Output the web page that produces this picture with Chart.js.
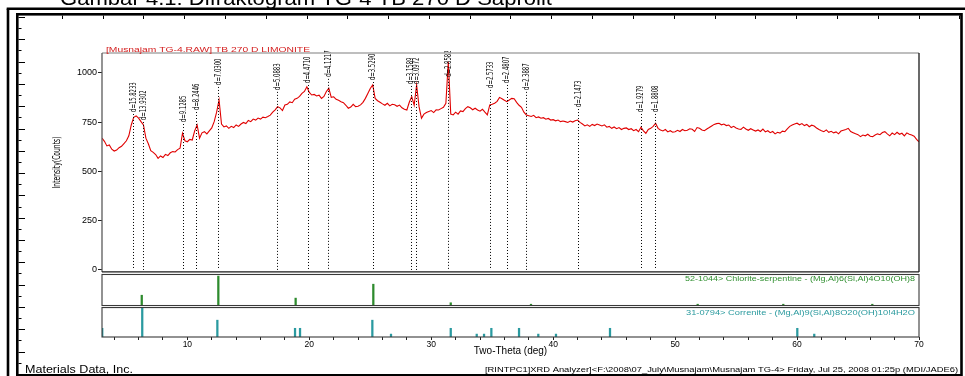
<!DOCTYPE html>
<html lang="id">
<head>
<meta charset="UTF-8">
<title>Difraktogram TG-4 TB 270 D Saprolit</title>
<script src="https://cdn.jsdelivr.net/npm/chart.js"></script>
<style>
  body { margin: 0; background: #fff; }
  canvas { display: block; }
</style>
</head>
<body>
<canvas id="xrdChart" width="965" height="376"></canvas>
<script>
// scan: 2-theta 3..70 deg, one value every 0.2 deg
const thetaStart = 3.0;
const thetaStep = 0.2;
const counts = [
  668, 652, 629, 634, 612,   // 3
  603, 608, 620, 627, 641,   // 4
  655, 680, 735, 774, 781,   // 5
  770, 752, 735, 668, 640,   // 6
  605, 596, 585, 566, 578,   // 7
  570, 586, 580, 594, 600,   // 8
  598, 610, 617, 693, 655,   // 9
  650, 662, 659, 705, 735,   // 10
  668, 695, 701, 690, 705,   // 11
  720, 752, 800, 862, 740,   // 12
  725, 730, 718, 728, 722,   // 13
  735, 728, 740, 748, 742,   // 14
  758, 752, 765, 760, 770,   // 15
  765, 775, 772, 778, 785,   // 16
  800, 812, 828, 822, 808,   // 17
  836, 840, 852, 848, 866,   // 18
  870, 880, 895, 905, 929,   // 19
  900, 887, 890, 882, 886,   // 20
  870, 880, 905, 921, 875,   // 21
  878, 865, 860, 853, 848,   // 22
  835, 820, 826, 840, 828,   // 23
  830, 837, 850, 870, 895,   // 24
  920, 938, 870, 858, 850,   // 25
  842, 835, 845, 832, 840,   // 26
  838, 830, 836, 822, 815,   // 27
  811, 850, 879, 835, 938,   // 28
  828, 769, 790, 798, 803,   // 29
  808, 798, 812, 811, 818,   // 30
  825, 845, 1055, 790, 786,  // 31
  800, 790, 806, 803, 818,   // 32
  828, 822, 812, 820, 811,   // 33
  805, 815, 800, 786, 837,   // 34
  840, 845, 855, 875, 868,   // 35
  860, 853, 862, 870, 868,   // 36
  850, 835, 825, 800, 786,   // 37
  782, 778, 784, 772, 776,   // 38
  769, 772, 764, 768, 760,   // 39
  762, 756, 760, 752, 755,   // 40
  752, 748, 755, 750, 757,   // 41
  760, 748, 740, 730, 736,   // 42
  728, 738, 732, 740, 735,   // 43
  730, 736, 724, 728, 718,   // 44
  725, 716, 722, 712, 718,   // 45
  720, 712, 716, 706, 712,   // 46
  701, 723, 705, 693, 712,   // 47
  718, 728, 744, 718, 710,   // 48
  705, 712, 700, 706, 698,   // 49
  701, 708, 702, 712, 706,   // 50
  708, 716, 713, 702, 722,   // 51
  718, 710, 706, 715, 722,   // 52
  730, 738, 742, 744, 736,   // 53
  740, 732, 735, 722, 728,   // 54
  720, 715, 713, 724, 715,   // 55
  708, 716, 710, 704, 710,   // 56
  702, 714, 700, 706, 696,   // 57
  702, 690, 698, 694, 704,   // 58
  701, 715, 728, 735, 740,   // 59
  744, 736, 742, 732, 738,   // 60
  726, 734, 730, 720, 712,   // 61
  706, 701, 710, 698, 703,   // 62
  695, 700, 690, 704, 708,   // 63
  712, 718, 702, 696, 690,   // 64
  686, 676, 684, 680, 688,   // 65
  678, 676, 684, 690, 686,   // 66
  697, 701, 690, 680, 694,   // 67
  686, 698, 688, 693, 680,   // 68
  695, 688, 684, 678, 662,   // 69
  650                        // 70
];

// peak markers (2-theta, label, counts where the dotted line starts)
const peakTheta = [5.54, 6.39, 9.67, 10.71, 12.54, 17.38, 19.87, 21.57, 25.20,
                   28.32, 28.79, 31.37, 34.82, 36.19, 37.77, 42.06, 47.18, 48.38];
const peakLabels = ['d=15.8233', 'd=13.9302', 'd=9.1285', 'd=8.2446', 'd=7.0300',
                    'd=5.0883', 'd=4.4710', 'd=4.1217', 'd=3.5290', 'd=3.1589',
                    'd=3.0972', 'd=2.8582', 'd=2.5733', 'd=2.4807', 'd=2.3887',
                    'd=2.1473', 'd=1.9279', 'd=1.8808'];
const peakLabelBase = [801, 760, 750, 811, 938, 913, 948, 979, 963,
                       943, 943, 979, 923, 948, 913, 826, 801, 801];

// reference cards (relative intensity, %)
const chloriteTheta = [6.26, 12.54, 18.88, 25.25, 31.60, 38.18, 51.85, 58.87, 66.17];
const chloriteInt   = [34, 100, 24, 72, 8, 3, 3, 3, 3];
const correniteTheta = [3.02, 6.30, 12.46, 18.83, 19.24, 25.17, 26.70, 31.60, 33.73,
                        34.33, 34.93, 37.20, 38.78, 40.23, 44.66, 60.02, 61.41];
const correniteInt   = [30, 100, 58, 30, 30, 58, 10, 30, 10, 10, 30, 30, 10, 10, 30, 30, 10];

const yTicks = [0, 250, 500, 750, 1000];
const xTicks = [4, 6, 8, 10, 12, 14, 16, 18, 20, 22, 24, 26, 28, 30, 32, 34, 36, 38,
                40, 42, 44, 46, 48, 50, 52, 54, 56, 58, 60, 62, 64, 66, 68, 70];
const xTickLabels = [10, 20, 30, 40, 50, 60, 70];

const scan = counts.map((c, i) => ({ x: +(thetaStart + i * thetaStep).toFixed(1), y: c }));
const chlorite = chloriteTheta.map((t, i) => ({ x: t, y: chloriteInt[i] }));
const correnite = correniteTheta.map((t, i) => ({ x: t, y: correniteInt[i] }));

const SANS = '"Liberation Sans", Arial, sans-serif';
const NARROW = '"Liberation Sans Narrow", "DejaVu Sans Condensed", sans-serif';

// text at a given font size, squeezed or stretched to a given length
function squashText(ctx, text, x, y, size, family, width) {
  ctx.font = size + 'px ' + family;
  const k = width / ctx.measureText(text).width;
  ctx.save();
  ctx.translate(x, y);
  ctx.scale(k, 1);
  ctx.fillText(text, 0, 0);
  ctx.restore();
}

function line(ctx, x1, y1, x2, y2) {
  ctx.beginPath();
  ctx.moveTo(x1, y1);
  ctx.lineTo(x2, y2);
  ctx.stroke();
}

const decor = {
  id: 'decor',
  beforeDraw(chart) {
    const ctx = chart.ctx;
    ctx.save();
    ctx.fillStyle = '#fff';
    ctx.fillRect(0, 0, chart.width, chart.height);
    ctx.restore();
  },
  afterDatasetsDraw(chart) {
    const ctx = chart.ctx;
    const { x, y } = chart.scales;
    const zero = y.getPixelForValue(0);
    ctx.save();
    ctx.strokeStyle = '#000';
    ctx.lineWidth = 1;
    ctx.setLineDash([1, 2]);
    peakTheta.forEach((t, i) => {
      const px = Math.round(x.getPixelForValue(t)) + 0.5;
      line(ctx, px, y.getPixelForValue(peakLabelBase[i]) + 2, px, zero);
    });
    ctx.setLineDash([]);
    ctx.fillStyle = '#000';
    ctx.textAlign = 'left';
    ctx.textBaseline = 'middle';
    peakTheta.forEach((t, i) => {
      ctx.save();
      ctx.translate(x.getPixelForValue(t) + 0.5, y.getPixelForValue(peakLabelBase[i]));
      ctx.rotate(-Math.PI / 2);
      squashText(ctx, peakLabels[i], 0, 0, 8, NARROW, peakLabels[i].length * 3.3);
      ctx.restore();
    });
    ctx.restore();
  },
  afterDraw(chart) {
    const ctx = chart.ctx;
    const { y, y2, y3 } = chart.scales;
    const L = chart.chartArea.left, R = chart.chartArea.right;
    ctx.save();

    // caption, cut by the top of the page
    ctx.fillStyle = '#000';
    ctx.textAlign = 'left';
    ctx.textBaseline = 'alphabetic';
    squashText(ctx, 'Gambar 4.1: Difraktogram TG-4 TB 270 D Saprolit', 60, 5, 20, SANS, 492);

    // outer frames
    ctx.strokeStyle = '#000';
    ctx.lineWidth = 2.6;
    line(ctx, 6.7, 8.7, 965, 8.7);
    line(ctx, 8, 8.7, 8, 376);
    ctx.strokeRect(17.3, 14.3, 944.2, 361);

    // ruler ticks on the frame
    ctx.lineWidth = 1;
    for (let k = 0; k < 23; k++) {
      const tx = Math.round(61.7 + 40.8 * k) + 0.5;
      line(ctx, tx, 15.5, tx, 19);
    }
    for (let k = -2; k < 31; k++) {
      const ty = Math.round(39.3 + 11.15 * k) + 0.5;
      line(ctx, 18.5, ty, k % 2 === 0 ? 25 : 21.5, ty);
    }

    // main panel frame
    const mTop = y.getPixelForValue(1100), mBot = y.getPixelForValue(-10);
    ctx.lineWidth = 1.3;
    ctx.strokeStyle = '#a8a8a8';
    line(ctx, L, mTop, R, mTop);
    ctx.strokeStyle = '#5a5a5a';
    line(ctx, L, mTop, L, mBot);
    ctx.strokeStyle = '#1a1a1a';
    line(ctx, R, mTop, R, mBot);
    line(ctx, L, mBot, R, mBot);

    // reference panels
    ctx.strokeStyle = '#3a3a3a';
    ctx.lineWidth = 1.1;
    const cTop = y2.getPixelForValue(105.5), cBot = y2.getPixelForValue(-1.5);
    ctx.strokeRect(L, cTop, R - L, cBot - cTop);
    const rTop = y3.getPixelForValue(101.5), rBot = y3.getPixelForValue(0);
    ctx.strokeRect(L, rTop, R - L, rBot - rTop);

    // header of the scan
    ctx.fillStyle = '#d42020';
    squashText(ctx, '[Musnajam TG-4.RAW] TB 270 D LIMONITE', 106, 51.5, 7.5, SANS, 204);

    // y title
    ctx.fillStyle = '#000';
    ctx.save();
    ctx.translate(57.5, (mTop + mBot) / 2 + 26);
    ctx.rotate(-Math.PI / 2);
    ctx.textBaseline = 'middle';
    squashText(ctx, 'Intensity(Counts)', 0, 0, 11, NARROW, 52);
    ctx.restore();
    ctx.textBaseline = 'alphabetic';

    // card labels
    ctx.fillStyle = '#2f8f2f';
    squashText(ctx, '52-1044> Chlorite-serpentine - (Mg,Al)6(Si,Al)4O10(OH)8', 685, cTop + 6.5, 6.5, SANS, 230);
    ctx.fillStyle = '#2a9a9e';
    squashText(ctx, '31-0794> Correnite - (Mg,Al)9(Si,Al)8O20(OH)10!4H2O', 686, rTop + 7, 6.5, SANS, 229);

    // footer
    ctx.fillStyle = '#000';
    squashText(ctx, 'Materials Data, Inc.', 25, 373, 10, SANS, 108);
    const foot = '[RINTPC1]XRD Analyzer]<F:\\2008\\07_July\\Musnajam\\Musnajam TG-4> Friday, Jul 25, 2008 01:25p (MDI/JADE6)';
    squashText(ctx, foot, 485, 371.5, 8, SANS, 473);

    ctx.restore();
  }
};

new Chart(document.getElementById('xrdChart'), {
  type: 'line',
  data: {
    datasets: [
      {
        label: 'TG-4 TB 270 D',
        data: scan,
        yAxisID: 'y',
        borderColor: '#e00000',
        borderWidth: 1.1,
        pointRadius: 0,
        tension: 0
      },
      {
        type: 'bar',
        label: '52-1044 Chlorite-serpentine',
        data: chlorite,
        yAxisID: 'y2',
        backgroundColor: '#2e8b2e',
        barThickness: 1.6,
        grouped: false
      },
      {
        type: 'bar',
        label: '31-0794 Correnite',
        data: correnite,
        yAxisID: 'y3',
        backgroundColor: '#2a9aa0',
        barThickness: 1.6,
        grouped: false
      }
    ]
  },
  options: {
    responsive: false,
    animation: false,
    events: [],
    layout: { padding: { left: 0, right: 46, top: 53, bottom: 0 } },
    scales: {
      x: {
        type: 'linear',
        min: 3,
        max: 70,
        offset: false,
        afterBuildTicks: s => { s.ticks = xTicks.map(v => ({ value: v })); },
        afterFit: s => { s.height = 39; },
        ticks: {
          autoSkip: false,
          maxRotation: 0,
          padding: 0,
          color: '#000',
          font: { family: SANS, size: 8.5 },
          callback: v => xTickLabels.includes(v) ? String(v) : ''
        },
        grid: { offset: false, drawOnChartArea: false, tickLength: 3, color: '#222' },
        border: { display: false },
        title: {
          display: true,
          text: 'Two-Theta (deg)',
          color: '#000',
          font: { family: SANS, size: 10 },
          padding: { top: 0, bottom: 19 }
        }
      },
      y: {
        position: 'left',
        min: -340,
        max: 1100,
        afterBuildTicks: s => { s.ticks = yTicks.map(v => ({ value: v })); },
        afterFit: s => { s.width = 102; },
        ticks: {
          padding: 1,
          color: '#000',
          font: { family: SANS, size: 9 },
          callback: v => String(v)
        },
        grid: { drawOnChartArea: false, tickLength: 4, color: '#222' },
        border: { display: false }
      },
      y2: { display: false, min: -110, max: 869 },
      y3: { display: false, min: 0, max: 979 }
    },
    plugins: {
      legend: { display: false },
      tooltip: { enabled: false }
    }
  },
  plugins: [decor]
});
</script>
</body>
</html>
